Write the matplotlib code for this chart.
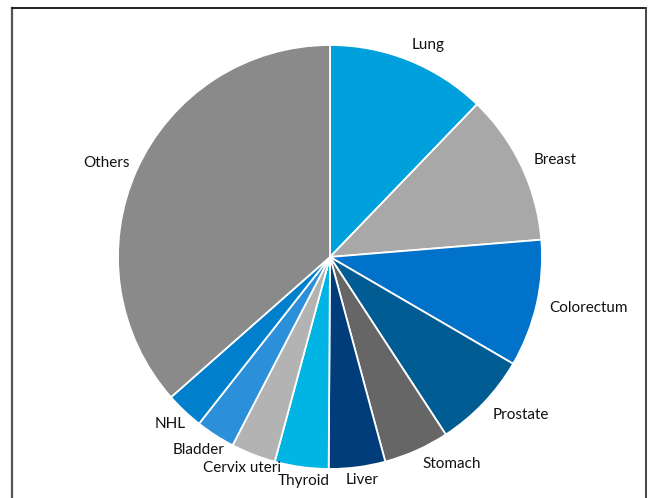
import matplotlib.pyplot as plt
import numpy as np

# share of cases (%), clockwise from 12 o'clock
sites = ['Lung', 'Breast', 'Colorectum', 'Prostate', 'Stomach', 'Liver',
         'Thyroid', 'Cervix uteri', 'Bladder', 'NHL', 'Others']
shares = [12.2, 11.5, 9.7, 7.4, 5.0, 4.3, 4.1, 3.4, 3.0, 2.9, 36.5]
colors = ['#00a0dc', '#a8a8a8', '#0072c9', '#005c92', '#666666', '#003d7a',
          '#00b4e4', '#b3b3b3', '#2b90d9', '#0080cc', '#8a8a8a']

if __name__ == '__main__':
    plt.rcParams['font.family'] = ['Lato', 'DejaVu Sans']

    fig = plt.figure(figsize=(6.49, 4.98), dpi=100)
    ax = fig.add_axes([0, 0, 1, 1])

    wedges, texts = ax.pie(shares, labels=sites, colors=colors, startangle=90,
                           counterclock=False, radius=1, labeldistance=1.08,
                           wedgeprops=dict(edgecolor='white', linewidth=1.3),
                           textprops=dict(fontsize=11, color='#111111'))

    # 1 data unit = 212 px, pie centre at (330, 257) px from top-left
    scale = 212.0

    # bottom labels sit centred under their slice; small nudges in px (right, down)
    centred = ['Liver', 'Thyroid', 'Cervix uteri', 'Bladder', 'NHL']
    nudge = {'Lung': (-4, 0), 'Breast': (-3, 1), 'Colorectum': (-4, 0),
             'Prostate': (-3, 0), 'Stomach': (-1, -2), 'Liver': (3, -4),
             'Thyroid': (5, -3), 'Cervix uteri': (-5, -2), 'Bladder': (-8, 0),
             'NHL': (-3, 1), 'Others': (8, 0)}
    for t in texts:
        name = t.get_text()
        if name in centred:
            t.set_ha('center')
        x, y = t.get_position()
        dx, dy = nudge.get(name, (0, 0))
        t.set_position((x + dx / scale, y - dy / scale))

    ax.set_xlim(-330 / scale, (649 - 330) / scale)
    ax.set_ylim(-(498 - 257) / scale, 257 / scale)
    ax.set_aspect('auto')
    ax.axis('off')

    # frame round the figure (open at the bottom)
    fig.add_artist(plt.Line2D([12 / 649, 12 / 649], [0, 1 - 8 / 498],
                              transform=fig.transFigure, color='#555555', lw=1.6))
    fig.add_artist(plt.Line2D([12 / 649, 646 / 649], [1 - 8 / 498, 1 - 8 / 498],
                              transform=fig.transFigure, color='#222222', lw=1.4))
    fig.add_artist(plt.Line2D([646 / 649, 646 / 649], [0, 1 - 8 / 498],
                              transform=fig.transFigure, color='#444444', lw=1.4))

    fig.savefig('out.png', dpi=100)
